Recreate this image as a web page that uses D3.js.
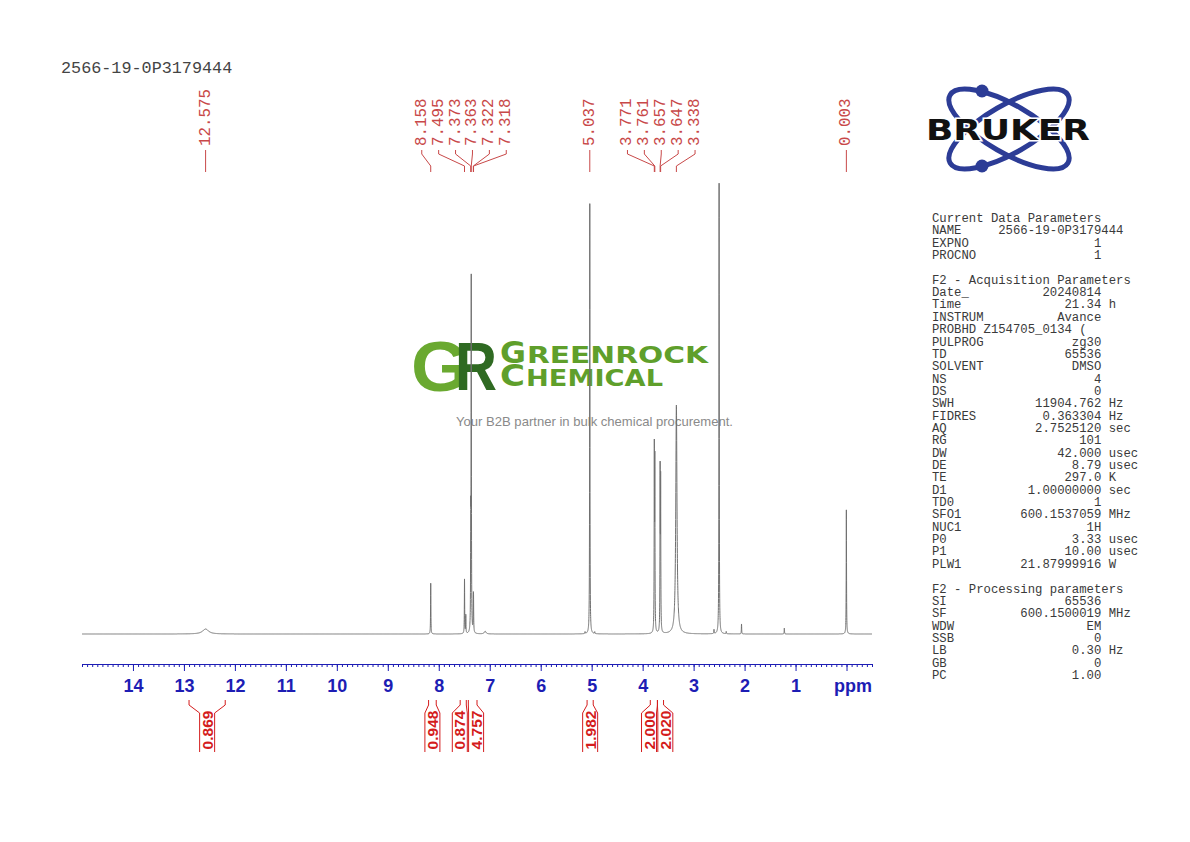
<!DOCTYPE html>
<html>
<head>
<meta charset="utf-8">
<script src="https://cdn.jsdelivr.net/npm/d3@7"></script>
<style>
  body { margin: 0; background: #fff; }
  svg { display: block; font-family: "Liberation Sans", Arial, sans-serif; }
  .mono { font-family: "Liberation Mono", "Courier New", monospace; white-space: pre; }
</style>
</head>
<body>
<svg id="chart" width="1190" height="842"></svg>
<script>
// ---- data ----
var title = "2566-19-0P3179444";

// spectrum lines: shift (ppm), height (DMSO = 100), half width (ppm)
var peakPpm    = [12.575, 8.158, 7.495, 7.47, 7.373, 7.363, 7.322, 7.318, 7.09, 5.13, 5.037, 4.94,
                  3.771, 3.761, 3.657, 3.647, 3.338, 2.60, 2.50, 2.36, 2.06, 1.22, 0.003];
var peakHeight = [1.1, 11.2, 12.0, 4.0, 22, 77, 6.0, 5.5, 0.6, 0.4, 95.0, 0.4,
                  39.0, 36.0, 34.5, 32.0, 50.5, 0.9, 99.5, 0.5, 2.2, 1.3, 27.4];
var peakHwhm   = [0.07, 0.0035, 0.0035, 0.0035, 0.0035, 0.0035, 0.0035, 0.0035, 0.02, 0.0035, 0.0035, 0.0035,
                  0.0035, 0.0035, 0.0035, 0.0035, 0.014, 0.0035, 0.0035, 0.0035, 0.0035, 0.0035, 0.0035];

// picked peaks
var labelPpm = [12.575, 8.158, 7.495, 7.373, 7.363, 7.322, 7.318, 5.037, 3.771, 3.761, 3.657, 3.647, 3.338, 0.003];

// integrals
var intFrom  = [12.90, 8.20, 7.58, 7.42, 5.09, 3.85, 3.71];
var intTo    = [12.19, 8.05, 7.46, 7.25, 4.97, 3.71, 3.59];
var intValue = ["0.869", "0.948", "0.874", "4.757", "1.982", "2.000", "2.020"];

// axis
var majorTicks = d3.range(0, 15);
var minorTicks = d3.range(-5, 151).map(function (i) { return i / 10; });

// acquisition / processing parameters
var paramRows = [
  ["Current Data Parameters"],
  ["NAME", "2566-19-0P3179444"],
  ["EXPNO", "1"],
  ["PROCNO", "1"],
  [],
  ["F2 - Acquisition Parameters"],
  ["Date_", "20240814"],
  ["Time", "21.34", "h"],
  ["INSTRUM", "Avance"],
  ["PROBHD", "Z154705_0134 (  "],
  ["PULPROG", "zg30"],
  ["TD", "65536"],
  ["SOLVENT", "DMSO"],
  ["NS", "4"],
  ["DS", "0"],
  ["SWH", "11904.762", "Hz"],
  ["FIDRES", "0.363304", "Hz"],
  ["AQ", "2.7525120", "sec"],
  ["RG", "101"],
  ["DW", "42.000", "usec"],
  ["DE", "8.79", "usec"],
  ["TE", "297.0", "K"],
  ["D1", "1.00000000", "sec"],
  ["TD0", "1"],
  ["SFO1", "600.1537059", "MHz"],
  ["NUC1", "1H"],
  ["P0", "3.33", "usec"],
  ["P1", "10.00", "usec"],
  ["PLW1", "21.87999916", "W"],
  [],
  ["F2 - Processing parameters"],
  ["SI", "65536"],
  ["SF", "600.1500019", "MHz"],
  ["WDW", "EM"],
  ["SSB", "0"],
  ["LB", "0.30", "Hz"],
  ["GB", "0"],
  ["PC", "1.00"]
];

// ---- drawing ----
var svg = d3.select("#chart");
var red = "#c84848", intRed = "#d41c1c", blue = "#1d1db4";

var x = d3.scaleLinear().domain([15, -0.5]).range([82, 872]);
var y = d3.scaleLinear().domain([0, 100]).range([634, 181]);

// title
svg.append("text").attr("class", "mono")
  .attr("x", 61).attr("y", 73)
  .attr("font-size", 16.8).attr("fill", "#444")
  .text(title);

// watermark (one text element, letters as tspans)
var wm = svg.append("text").attr("font-weight", "bold");
wm.append("tspan").attr("x", 411).attr("y", 391)
  .attr("font-size", 70).attr("fill", "#6aa930")
  .attr("textLength", 58).attr("lengthAdjust", "spacingAndGlyphs")
  .text("G");
wm.append("tspan").attr("x", 455).attr("y", 390)
  .attr("font-size", 68).attr("fill", "#2f6a22")
  .attr("textLength", 42).attr("lengthAdjust", "spacingAndGlyphs")
  .text("R");
var wmWords = [["G", "REENROCK", 363, 26, 182], ["C", "HEMICAL", 386, 25, 138]];
wmWords.forEach(function (w) {
  wm.append("tspan").attr("x", 500).attr("y", w[2]).attr("font-size", 30)
    .attr("font-family", "'DejaVu Sans', sans-serif").attr("fill", "#5f9f2b")
    .attr("textLength", w[3]).attr("lengthAdjust", "spacingAndGlyphs").text(w[0]);
  wm.append("tspan").attr("x", 500 + w[3] + 1).attr("y", w[2]).attr("font-size", 23)
    .attr("font-family", "'DejaVu Sans', sans-serif").attr("fill", "#5f9f2b")
    .attr("textLength", w[4] - 1).attr("lengthAdjust", "spacingAndGlyphs").text(w[1]);
});
svg.append("text").attr("x", 456).attr("y", 426)
  .attr("font-size", 13).attr("fill", "#8a8a8a")
  .attr("textLength", 277).attr("lengthAdjust", "spacingAndGlyphs")
  .text("Your B2B partner in bulk chemical procurement.");

// spectrum: sum of lorentzian lines
var grid = d3.range(-500, 15001).map(function (i) { return i / 1000; }).concat(peakPpm);
grid.sort(function (a, b) { return b - a; });
var spec = grid.map(function (p) {
  var s = 0;
  for (var k = 0; k < peakPpm.length; k++) {
    var u = (p - peakPpm[k]) / peakHwhm[k];
    s += peakHeight[k] / (1 + u * u);
  }
  return [p, s];
});
svg.append("path")
  .datum(spec)
  .attr("fill", "none").attr("stroke", "#707070").attr("stroke-width", 1)
  .attr("d", d3.line().x(function (d) { return x(d[0]); }).y(function (d) { return y(d[1]); }));

// spread labels so they do not overlap (positions sorted ascending)
function spread(xs, gap) {
  var groups = xs.map(function (v, i) { return { items: [i], pos: v }; });
  var merged = true;
  while (merged) {
    merged = false;
    for (var i = 0; i < groups.length - 1; i++) {
      var a = groups[i], b = groups[i + 1];
      var aEnd = a.pos + (a.items.length - 1) * gap / 2;
      var bStart = b.pos - (b.items.length - 1) * gap / 2;
      if (bStart - aEnd < gap) {
        var items = a.items.concat(b.items);
        groups.splice(i, 2, { items: items, pos: d3.mean(items, function (k) { return xs[k]; }) });
        merged = true;
        break;
      }
    }
  }
  var out = [];
  groups.forEach(function (g) {
    g.items.forEach(function (k, j) { out[k] = g.pos + (j - (g.items.length - 1) / 2) * gap; });
  });
  return out;
}

// peak labels
var peakX = labelPpm.map(function (p) { return x(p); });
var labX = spread(peakX, 16.9);
var pl = svg.append("g");
labelPpm.forEach(function (p, i) {
  pl.append("text").attr("class", "mono")
    .attr("transform", "translate(" + labX[i] + ",146) rotate(-90)")
    .attr("dominant-baseline", "central")
    .attr("font-size", 15.8).attr("fill", red)
    .text(p.toFixed(3));
  pl.append("path")
    .attr("d", "M" + labX[i] + ",150L" + labX[i] + ",154L" + peakX[i] + ",166L" + peakX[i] + ",172")
    .attr("fill", "none").attr("stroke", red).attr("stroke-width", 1);
});

// axis
var axisG = svg.append("g").attr("transform", "translate(0,664)");
axisG.append("g")
  .call(d3.axisBottom(x).tickValues(minorTicks).tickSize(3).tickSizeOuter(0).tickFormat(""));
var major = axisG.append("g")
  .call(d3.axisBottom(x).tickValues(majorTicks).tickSize(7).tickSizeOuter(0).tickPadding(8)
    .tickFormat(function (d) { return d === 0 ? "ppm" : d; }));
axisG.selectAll("path, line").attr("stroke", blue).attr("stroke-width", 1);
major.selectAll("text")
  .attr("fill", blue).attr("font-size", 18).attr("font-weight", "bold")
  .attr("font-family", "'Liberation Sans Narrow', 'Arial Narrow', 'Liberation Sans', sans-serif");
major.selectAll(".tick").filter(function (d) { return d === 0; }).select("text").attr("dx", 6);

// integrals
var intMid = intFrom.map(function (f, i) { return x((f + intTo[i]) / 2); });
var intX = spread(intMid, 16.3);
var ig = svg.append("g");
intValue.forEach(function (v, i) {
  var x1 = x(intFrom[i]), x2 = x(intTo[i]), lx = intX[i];
  ig.append("path")
    .attr("d", "M" + x1 + ",700L" + x1 + ",705L" + (lx - 7.5) + ",713L" + (lx - 7.5) + ",752" +
               "M" + x2 + ",700L" + x2 + ",705L" + (lx + 7.5) + ",713L" + (lx + 7.5) + ",752")
    .attr("fill", "none").attr("stroke", intRed).attr("stroke-width", 1);
  ig.append("text")
    .attr("transform", "translate(" + lx + ",730) rotate(-90)")
    .attr("text-anchor", "middle").attr("dominant-baseline", "central")
    .attr("font-size", 15.5).attr("font-weight", "bold").attr("fill", intRed)
    .text(v);
});

// Bruker logo
var logo = svg.append("g").attr("transform", "translate(1009,129)");
[30, -30].forEach(function (a) {
  logo.append("ellipse").attr("rx", 68).attr("ry", 24)
    .attr("transform", "rotate(" + a + ")")
    .attr("fill", "none").attr("stroke", "#2c3c96").attr("stroke-width", 5);
});
logo.append("circle").attr("cx", -27).attr("cy", -38).attr("r", 6.5).attr("fill", "#2c3c96");
logo.append("circle").attr("cx", -27).attr("cy", 37).attr("r", 6.5).attr("fill", "#2c3c96");
logo.append("text").attr("x", -1).attr("y", 11)
  .attr("text-anchor", "middle").attr("font-size", 29).attr("font-weight", "900")
  .attr("font-family", "'DejaVu Sans', 'Liberation Sans', sans-serif")
  .attr("textLength", 164).attr("lengthAdjust", "spacingAndGlyphs")
  .attr("fill", "#111").attr("stroke", "#fff").attr("stroke-width", 3).attr("paint-order", "stroke")
  .text("BRUKER");

// parameter panel
var cols = 23;
var pp = svg.append("g").attr("font-size", 12.27).attr("fill", "#3a3a3a");
paramRows.forEach(function (r, i) {
  if (!r.length) return;
  var line;
  if (r.length === 1) line = r[0];
  else if (r[0] === "NAME") line = r[0].padEnd(9) + r[1];
  else {
    line = r[0] + " ".repeat(Math.max(1, cols - r[0].length - r[1].length)) + r[1];
    if (r[2]) line += " " + r[2];
  }
  pp.append("text").attr("class", "mono")
    .attr("xml:space", "preserve").style("white-space", "pre")
    .attr("x", 932).attr("y", 222 + i * 12.35).text(line);
});
</script>
</body>
</html>
